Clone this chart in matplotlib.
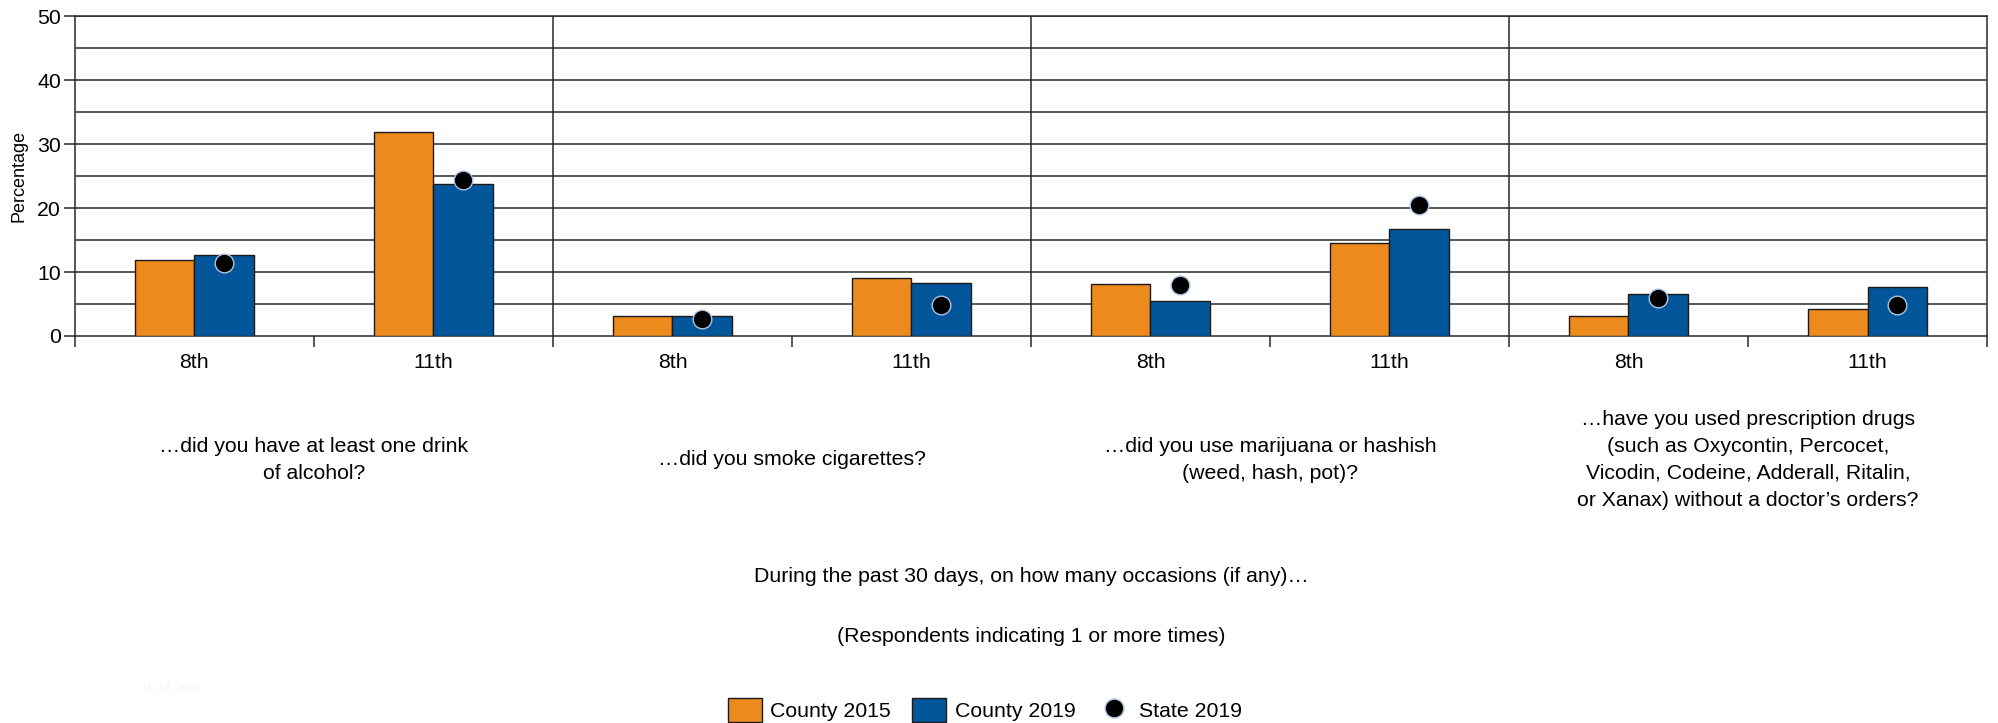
import matplotlib
matplotlib.use("Agg")
import matplotlib.pyplot as plt
import matplotlib.transforms as mtransforms
from matplotlib.patches import Patch
from matplotlib.lines import Line2D
import numpy as np

plt.rcParams['font.family'] = ['Liberation Sans', 'DejaVu Sans']

# questions (one per group) and grades inside each group
questions = ['…did you have at least one drink\nof alcohol?',
             '…did you smoke cigarettes?',
             '…did you use marijuana or hashish\n(weed, hash, pot)?',
             '…have you used prescription drugs\n(such as Oxycontin, Percocet,\nVicodin, Codeine, Adderall, Ritalin,\nor Xanax) without a doctor’s orders?']
grades = ['8th', '11th']

# values per bar, order: q1 8th, q1 11th, q2 8th, ...
county_2015 = [11.9, 31.9, 3.1, 9.1, 8.1, 14.6, 3.1, 4.2]
county_2019 = [12.7, 23.8, 3.1, 8.3, 5.4, 16.7, 6.5, 7.7]
state_2019 = [11.4, 24.4, 2.7, 4.9, 7.9, 20.5, 5.9, 4.8]

orange = '#EC8A1E'
blue = '#04569A'
line_col = '#2a2a2a'
fs = 15.3

fig = plt.figure(figsize=(19.98, 7.23), dpi=100)
ax = fig.add_axes([0.0375, 0.5353, 0.957, 0.4419])

n = len(county_2015)
centers = np.arange(n) + 0.5
bw = 0.25

# horizontal grid every 5
for yv in range(5, 51, 5):
    ax.axhline(yv, color=line_col, lw=1.1, zorder=1)

# group separators
for xv in range(2, n, 2):
    ax.axvline(xv, color=line_col, lw=1.1, zorder=1)

ax.bar(centers - bw / 2, county_2015, width=bw, color=orange,
       edgecolor='#1a1a1a', linewidth=1.0, zorder=3)
ax.bar(centers + bw / 2, county_2019, width=bw, color=blue,
       edgecolor='#1a1a1a', linewidth=1.0, zorder=3)
ax.scatter(centers + bw / 2, state_2019, s=180, color='black',
           edgecolor='#A9C4E4', linewidth=1.0, zorder=4)

ax.set_xlim(0, n)
ax.set_ylim(0, 50)

ax.set_yticks(range(0, 51, 10))
ax.tick_params(axis='y', length=8, width=1.1, color=line_col, labelsize=fs, pad=2)
ax.set_xticks(range(0, n + 1))
ax.set_xticklabels([])
ax.tick_params(axis='x', which='major', length=8, width=1.1, color=line_col)
ax.set_xticks(centers, minor=True)
ax.set_xticklabels(grades * 4, minor=True)
ax.tick_params(axis='x', which='minor', length=0, labelsize=fs, pad=12)

for s in ax.spines.values():
    s.set_color(line_col)
    s.set_linewidth(1.1)

ax.set_ylabel('Percentage', fontsize=13)
ax.yaxis.set_label_coords(-0.025, 0.5)

trans = mtransforms.blended_transform_factory(ax.transData, fig.transFigure)
for i, q in enumerate(questions):
    fig.text(2 * i + 1, 0.3638, q, transform=trans, ha='center', va='center',
             fontsize=fs, linespacing=1.53)

fig.text(0.5162, 0.203, 'During the past 30 days, on how many occasions (if any)…',
         ha='center', va='center', fontsize=fs)
fig.text(0.5162, 0.119, '(Respondents indicating 1 or more times)',
         ha='center', va='center', fontsize=fs)
fig.text(0.07, 0.05, '11_14_2019', ha='left', va='center', fontsize=8, color='#f4f4f4')

handles = [Patch(facecolor=orange, edgecolor='#1a1a1a', linewidth=1.0, label='County 2015'),
           Patch(facecolor=blue, edgecolor='#1a1a1a', linewidth=1.0, label='County 2019'),
           Line2D([], [], marker='o', linestyle='none', markersize=13.5,
                  markerfacecolor='black', markeredgecolor='#A9C4E4', label='State 2019')]
fig.legend(handles=handles, loc='center', bbox_to_anchor=(0.493, 0.018), ncol=3,
           frameon=False, fontsize=fs, handlelength=1.6, handleheight=1.34,
           handletextpad=0.4, columnspacing=1.0, borderpad=0)

fig.savefig('out.png', dpi=100)
